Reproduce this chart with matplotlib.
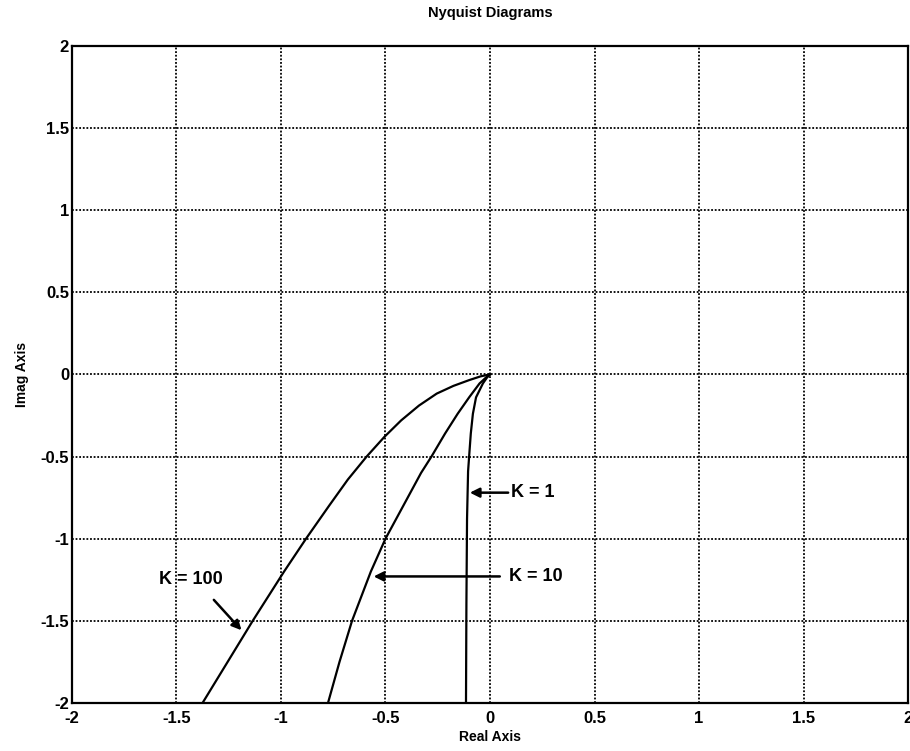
import numpy as np
import matplotlib
matplotlib.use("Agg")
from matplotlib import pyplot as plt

plt.rcParams['font.family'] = ['Liberation Sans', 'DejaVu Sans']
plt.rcParams['font.weight'] = 'bold'

# curves (real, imag)
k1_re = [0.0, -0.015, -0.034, -0.067, -0.082, -0.092, -0.1, -0.105, -0.11, -0.113, -0.115]
k1_im = [0.0, -0.02, -0.055, -0.14, -0.24, -0.36, -0.5, -0.59, -0.88, -1.4, -2.0]

k10_re = [0.0, -0.02, -0.05, -0.1, -0.155, -0.215, -0.28, -0.33, -0.415, -0.5, -0.57, -0.66, -0.72, -0.775]
k10_im = [0.0, -0.02, -0.055, -0.14, -0.24, -0.36, -0.5, -0.6, -0.8, -1.0, -1.2, -1.5, -1.75, -2.0]

k100_re = [0.0, -0.045, -0.1, -0.175, -0.255, -0.34, -0.425, -0.505, -0.59, -0.68, -0.77,
           -0.88, -0.985, -1.135, -1.255, -1.375]
k100_im = [0.0, -0.012, -0.035, -0.07, -0.117, -0.19, -0.28, -0.38, -0.5, -0.64, -0.8,
           -1.0, -1.2, -1.5, -1.75, -2.0]

ticks = [-2, -1.5, -1, -0.5, 0, 0.5, 1, 1.5, 2]
tick_labels = ['-2', '-1.5', '-1', '-0.5', '0', '0.5', '1', '1.5', '2']

fig = plt.figure(figsize=(9.1, 7.51), dpi=100)
ax = fig.add_axes([0.079, 0.064, 0.919, 0.875])

ax.plot(k1_re, k1_im, color='black', lw=1.6)
ax.plot(k10_re, k10_im, color='black', lw=1.6)
ax.plot(k100_re, k100_im, color='black', lw=1.6)

ax.set_xlim(-2, 2)
ax.set_ylim(-2, 2)
ax.set_xticks(ticks)
ax.set_yticks(ticks)
ax.set_xticklabels(tick_labels, fontsize=12, fontweight='bold')
ax.set_yticklabels(tick_labels, fontsize=12, fontweight='bold')
ax.tick_params(axis='x', length=0, pad=6)
ax.tick_params(axis='y', length=0, pad=2)
ax.grid(True, color='black', linestyle=(0, (1, 1)), linewidth=1.3)
for s in ax.spines.values():
    s.set_linewidth(1.6)

ax.set_title('Nyquist Diagrams', fontsize=10.5, fontweight='bold', pad=21)
ax.set_xlabel('Real Axis', fontsize=10, fontweight='bold', labelpad=3)
ax.set_ylabel('Imag Axis', fontsize=10, fontweight='bold', labelpad=8)

arrow = dict(arrowstyle='-|>', color='black', lw=1.8, mutation_scale=14)
ax.annotate('', xy=(-0.11, -0.72), xytext=(0.1, -0.72), arrowprops=arrow)
ax.text(0.1, -0.72, 'K = 1', fontsize=13, fontweight='bold', va='center', ha='left')

ax.annotate('', xy=(-0.57, -1.23), xytext=(0.06, -1.23), arrowprops=arrow)
ax.text(0.09, -1.23, 'K = 10', fontsize=13, fontweight='bold', va='center', ha='left')

ax.annotate('', xy=(-1.18, -1.57), xytext=(-1.33, -1.36), arrowprops=arrow)
ax.text(-1.43, -1.25, 'K = 100', fontsize=13, fontweight='bold', va='center', ha='center')

plt.savefig('out.png', dpi=100)
plt.close()
